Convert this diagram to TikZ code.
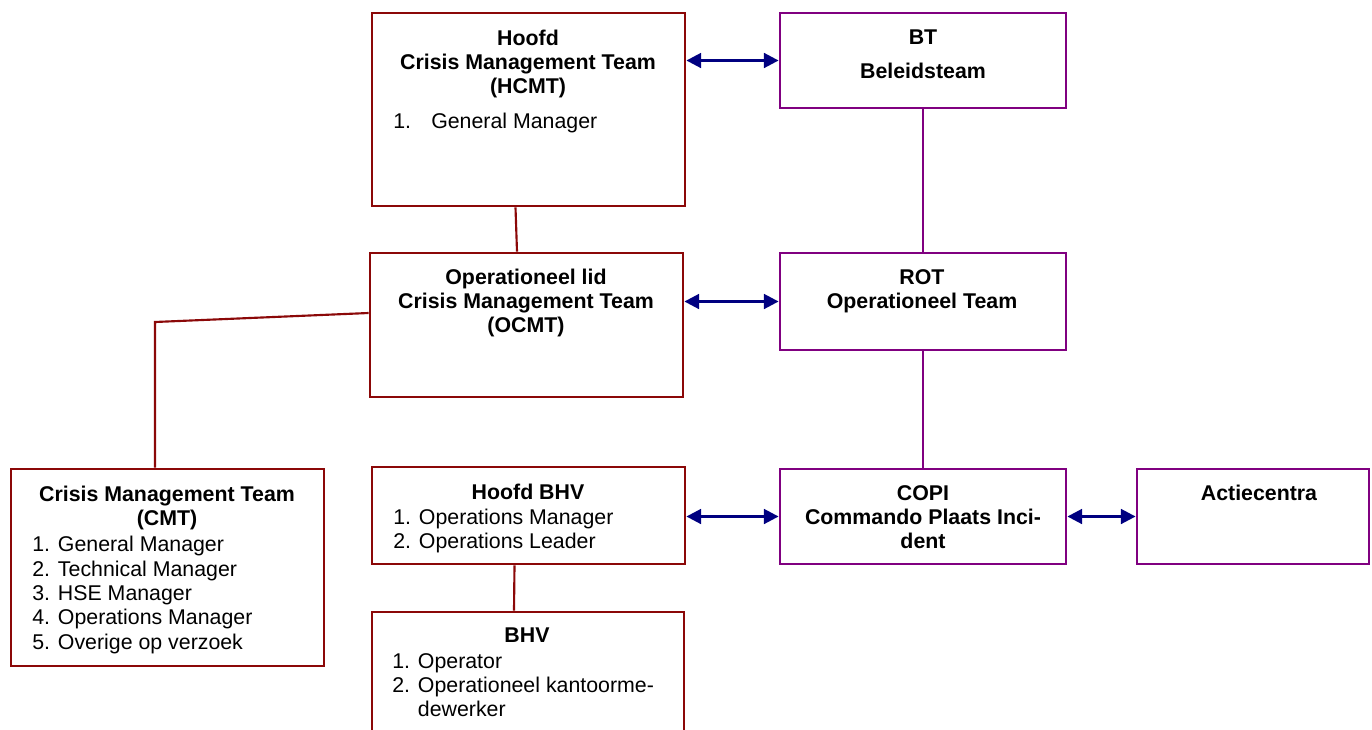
\documentclass[tikz,border=0pt]{standalone}
\usepackage{fontspec}
\setmainfont{Liberation Sans}
\usetikzlibrary{arrows.meta,calc}
\definecolor{boxred}{RGB}{139,8,8}
\definecolor{boxpurple}{RGB}{128,0,128}
\definecolor{arrnavy}{RGB}{0,0,128}
\begin{document}
\begin{tikzpicture}[x=0.75pt,y=-0.75pt,
  redbox/.style={draw=boxred,line width=2.1pt,rectangle,inner sep=0pt},
  purplebox/.style={draw=boxpurple,line width=2.1pt,rectangle,inner sep=0pt},
  redline/.style={draw=boxred,line width=1.6pt},
  purpleline/.style={draw=boxpurple,line width=1.6pt},
  arr/.style={draw=arrnavy,line width=2pt,{Triangle[length=11pt,width=11pt]}-{Triangle[length=11pt,width=11pt]}},
  title/.style={inner sep=0pt,anchor=north,align=center,font=\fontsize{16}{18}\selectfont\bfseries},
  list/.style={inner sep=0pt,anchor=north west,align=left,font=\fontsize{16}{18}\selectfont}]
\useasboundingbox (0,0) rectangle (1372,729);
\clip (0,0) rectangle (1372,729);
% boxes
\node[redbox,minimum width=234.75pt,minimum height=144.75pt] (hcmt) at (528.5,109.5) {};
\node[purplebox,minimum width=214.5pt,minimum height=71.25pt] (bt) at (923,60.5) {};
\node[redbox,minimum width=234.75pt,minimum height=108pt] (ocmt) at (526.5,325) {};
\node[purplebox,minimum width=214.5pt,minimum height=72.75pt] (rot) at (923,301.5) {};
\node[redbox,minimum width=234.75pt,minimum height=147.75pt] (cmt) at (167.5,567.5) {};
\node[redbox,minimum width=234.75pt,minimum height=72.75pt] (hbhv) at (528.5,515.5) {};
\node[redbox,minimum width=234pt,minimum height=96pt] (bhv) at (528,676) {};
\node[purplebox,minimum width=214.5pt,minimum height=71.25pt] (copi) at (923,516.5) {};
\node[purplebox,minimum width=174pt,minimum height=71.25pt] (act) at (1253,516.5) {};
% texts
\node[title] (hcmtT) at (528,30) {Hoofd\\Crisis Management Team\\(HCMT)};
\node[list] (hcmtL) at (393,113) {\makebox[28.5pt][l]{1.}General Manager};
\node[title] (btT) at (923,30) {BT\\[7.5pt]Beleidsteam};
\node[title] (ocmtT) at (526,269) {Operationeel lid\\Crisis Management Team\\(OCMT)};
\node[title] (rotT) at (922,269) {ROT\\Operationeel Team};
\node[title] (cmtT) at (167,486) {Crisis Management Team\\(CMT)};
\node[list,font=\fontsize{16}{18.3}\selectfont] (cmtL) at (32,536) {1. General Manager\\2. Technical Manager\\3. HSE Manager\\4. Operations Manager\\5. Overige op verzoek};
\node[title] (hbhvT) at (528,484) {Hoofd BHV};
\node[list] (hbhvL) at (393,509) {1. Operations Manager\\2. Operations Leader};
\node[title] (bhvT) at (527,628) {BHV};
\node[list] (bhvL) at (392,653) {1. Operator\\2. Operationeel kantoorme-\\\phantom{2. }dewerker};
\node[title] (copiT) at (923,485) {COPI\\Commando Plaats Inci-\\dent};
\node[title] (actT) at (1259,485) {Actiecentra};
% connectors
\draw[redline] ($(hcmt.south)+(-13,0)$) -- ($(ocmt.north)+(-9.5,0)$);
\coordinate (elbow) at (155,322);
\draw[redline] ($(ocmt.west)+(0,-12)$) -- (elbow) -- (cmt.north -| elbow);
\draw[purpleline] (bt.south) -- (rot.north);
\draw[purpleline] (rot.south) -- (copi.north);
\draw[redline] ($(hbhv.south)+(-14,0)$) -- ($(bhv.north)+(-14,0)$);
\draw[arr] (bt.west -| hcmt.east) -- (bt.west);
\draw[arr] (rot.west -| ocmt.east) -- (rot.west);
\draw[arr] (copi.west -| hbhv.east) -- (copi.west);
\draw[arr] (copi.east) -- (act.west);
\end{tikzpicture}
\end{document}
